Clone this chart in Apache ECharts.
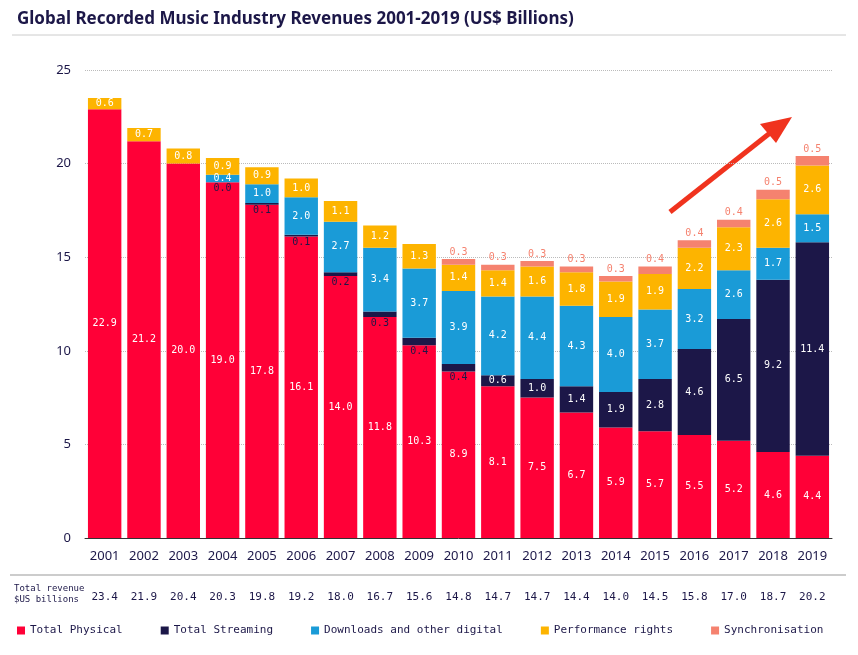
<!DOCTYPE html>
<html>
  <head>
    <meta charset="utf-8" />
    <title>Global Recorded Music Industry Revenues</title>
    <style type="text/css">
      html, body { margin: 0; width: 100%; height: 100%; background: #fff; }
      #chart { width: 858px; height: 655px; }
    </style>
    <script src="https://cdn.jsdelivr.net/npm/echarts@6/dist/echarts.min.js"></script>
  </head>
  <body>
    <div id="chart"></div>
    <script type="text/javascript">
      var years = ["2001","2002","2003","2004","2005","2006","2007","2008","2009","2010","2011","2012","2013","2014","2015","2016","2017","2018","2019"];
      var physical = [22.9,21.2,20.0,19.0,17.8,16.1,14.0,11.8,10.3,8.9,8.1,7.5,6.7,5.9,5.7,5.5,5.2,4.6,4.4];
      var streaming = [null,null,null,0.0,0.1,0.1,0.2,0.3,0.4,0.4,0.6,1.0,1.4,1.9,2.8,4.6,6.5,9.2,11.4];
      var downloads = [null,null,null,0.4,1.0,2.0,2.7,3.4,3.7,3.9,4.2,4.4,4.3,4.0,3.7,3.2,2.6,1.7,1.5];
      var performance = [0.6,0.7,0.8,0.9,0.9,1.0,1.1,1.2,1.3,1.4,1.4,1.6,1.8,1.9,1.9,2.2,2.3,2.6,2.6];
      var sync = [null,null,null,null,null,null,null,null,null,0.3,0.3,0.3,0.3,0.3,0.4,0.4,0.4,0.5,0.5];
      var totals = ["23.4","21.9","20.4","20.3","19.8","19.2","18.0","16.7","15.6","14.8","14.7","14.7","14.4","14.0","14.5","15.8","17.0","18.7","20.2"];

      var mono = "DejaVu Sans Mono";
      var colors = { phys: "#FF0037", stream: "#1C1748", dl: "#1A9BD7", perf: "#FDB400", sync: "#F5826F" };

      function fmt(p) { return p.value == null ? "" : p.value.toFixed(1); }

      function streamData() {
        return streaming.map(function (v) {
          if (v == null) return null;
          if (v < 0.5) {
            return { value: v, label: { position: "bottom", distance: 1, color: colors.stream } };
          }
          return v;
        });
      }

      var chart = echarts.init(document.getElementById("chart"));
      var option = {
        animation: false,
        title: {
          text: "Global Recorded Music Industry Revenues 2001-2019 (US$ Billions)",
          left: 12, top: 6,
          textStyle: { fontFamily: "Noto Sans", fontSize: 17, fontWeight: "bold", color: "#1C1748" }
        },
        color: [colors.phys, colors.stream, colors.dl, colors.perf, colors.sync],
        legend: {
          bottom: 14, left: 12, itemGap: 38, itemWidth: 8, itemHeight: 8, icon: "rect",
          textStyle: { fontFamily: mono, fontSize: 11, color: "#1C1748" },
          data: ["Total Physical", "Total Streaming", "Downloads and other digital", "Performance rights", "Synchronisation"]
        },
        grid: { left: 85, right: 26, top: 70, bottom: 117 },
        xAxis: [
          {
            type: "category", data: years,
            axisLine: { lineStyle: { color: "#333" } }, axisTick: { show: false },
            axisLabel: { fontFamily: "Noto Sans", fontSize: 13, color: "#1C1748", margin: 12 }
          },
          {
            type: "category", data: totals, position: "bottom", offset: 46,
            axisLine: { show: false }, axisTick: { show: false },
            axisLabel: { fontFamily: mono, fontSize: 11, color: "#1C1748" }
          }
        ],
        yAxis: {
          type: "value", min: 0, max: 25, interval: 5,
          axisLine: { show: false }, axisTick: { show: false },
          axisLabel: { fontFamily: "Noto Sans", fontSize: 13, color: "#1C1748", margin: 14 },
          splitLine: { lineStyle: { type: "dotted", color: "#bbb" } }
        },
        series: [
          { name: "Total Physical", type: "bar", stack: "t", barCategoryGap: "15%", data: physical,
            label: { show: true, position: "inside", color: "#fff", fontFamily: mono, fontSize: 10, formatter: fmt } },
          { name: "Total Streaming", type: "bar", stack: "t", data: streamData(),
            label: { show: true, position: "inside", color: "#fff", fontFamily: mono, fontSize: 10, formatter: fmt } },
          { name: "Downloads and other digital", type: "bar", stack: "t", data: downloads,
            label: { show: true, position: "inside", color: "#fff", fontFamily: mono, fontSize: 10, formatter: fmt } },
          { name: "Performance rights", type: "bar", stack: "t", data: performance,
            label: { show: true, position: "inside", color: "#fff", fontFamily: mono, fontSize: 10, formatter: fmt } },
          { name: "Synchronisation", type: "bar", stack: "t", data: sync,
            label: { show: true, position: "top", distance: 2, color: colors.sync, fontFamily: mono, fontSize: 10, formatter: fmt } }
        ],
        graphic: [
          { type: "line", shape: { x1: 12, y1: 35, x2: 846, y2: 35 }, style: { stroke: "#ccc", lineWidth: 1 } },
          { type: "line", shape: { x1: 10, y1: 575, x2: 846, y2: 575 }, style: { stroke: "#999", lineWidth: 1 } },
          { type: "text", left: 14, top: 583,
            style: { text: "Total revenue\n$US billions", font: "9px DejaVu Sans Mono", fill: "#1C1748", lineHeight: 11 } },
          { type: "line", shape: { x1: 670, y1: 212, x2: 770, y2: 133 }, style: { stroke: "#F0331E", lineWidth: 5 } },
          { type: "polygon", shape: { points: [[792, 117], [760, 124], [776, 143]] }, style: { fill: "#F0331E" } }
        ]
      };
      chart.setOption(option);
    </script>
  </body>
</html>
